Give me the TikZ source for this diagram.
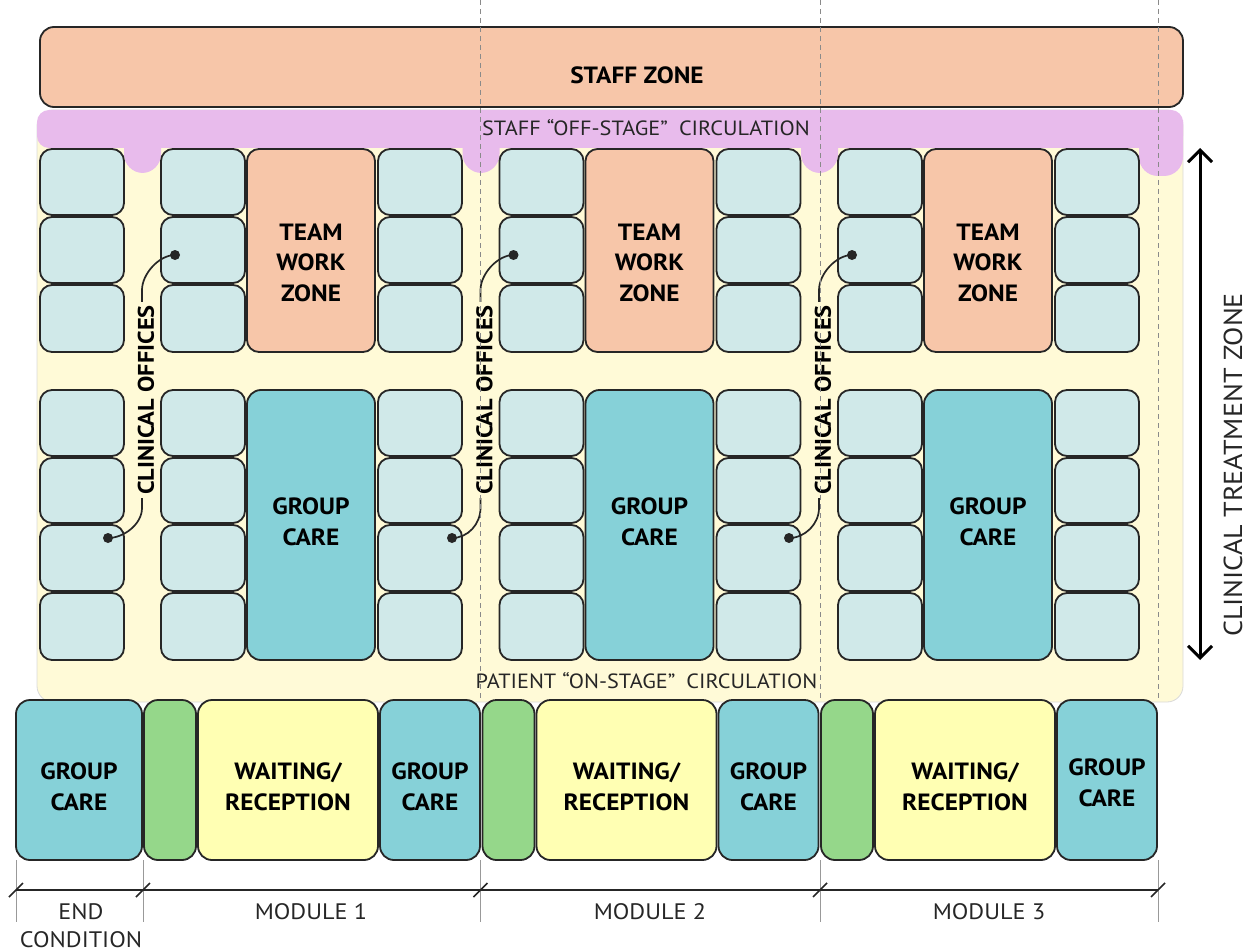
\documentclass[tikz,border=0pt]{standalone}
\usepackage{fontspec}
\setmainfont{PT Sans}[FakeStretch=1.08]
\usetikzlibrary{arrows.meta}
\definecolor{peach}{HTML}{F7C6A9}
\definecolor{lilac}{HTML}{E8BBEC}
\definecolor{cream}{HTML}{FFFAD7}
\definecolor{officefill}{HTML}{D0E9E9}
\definecolor{tealfill}{HTML}{86D1D8}
\definecolor{greenfill}{HTML}{95D78A}
\definecolor{yellowfill}{HTML}{FFFFB3}
\definecolor{ink}{HTML}{262626}
\definecolor{guide}{HTML}{8A8A8A}
\newcommand\rbox[6]{%
  \node[#2, minimum width={((#5)-(#3))*1pt}, minimum height={((#6)-(#4))*1pt}]
    (#1) at ({((#3)+(#5))/2},{((#4)+(#6))/2}) {};}
\tikzset{
  room/.style={draw=ink, line width=1.8pt, rounded corners=12pt, inner sep=0pt, outer sep=0pt},
  officebox/.style={room, fill=officefill},
  teambox/.style={room, fill=peach},
  groupbox/.style={room, fill=tealfill, rounded corners=14pt},
  entrybox/.style={room, fill=greenfill, rounded corners=14pt},
  waitbox/.style={room, fill=yellowfill, rounded corners=14pt},
  boldtxt/.style={align=center, inner sep=0pt, font=\bfseries\fontsize{23.5}{30.5}\selectfont, text=black},
  plaintxt/.style={align=center, inner sep=0pt, font=\fontsize{22.4}{28}\selectfont, text=black!85},
  circtxt/.style={inner sep=0pt, font=\fontsize{20.6}{24}\selectfont, text=black!85},
  sidetxt/.style={rotate=90, inner sep=0pt, font=\fontsize{26}{30}\selectfont, text=black!85},
  vlabel/.style={rotate=90, inner sep=3pt, font=\bfseries\fontsize{22.6}{26}\selectfont},
  leader/.style={draw=ink, line width=1.7pt},
  pin/.style={circle, fill=ink, inner sep=0pt, minimum size=10pt},
  modline/.style={draw=guide, line width=0.8pt, dash pattern=on 5pt off 4pt},
  extline/.style={draw=black!40, line width=0.9pt},
  dimline/.style={draw=ink, line width=1.3pt},
  tickmark/.style={draw=ink, line width=1.5pt},
  bigarrow/.style={draw=black, line width=3pt, {Straight Barb[length=12pt,width=24pt]}-{Straight Barb[length=12pt,width=24pt]}}
}
\begin{document}
\begin{tikzpicture}[x=1pt,y=-1pt]
\useasboundingbox (0,0) rectangle (1247,952);
% staff zone
\rbox{staff}{room, fill=peach, rounded corners=14pt}{40}{27}{1183}{107}
\node[boldtxt] (stafftxt) at (637,75) {STAFF ZONE};
% clinical treatment background
\filldraw[fill=cream, draw=black!15, line width=0.8pt, rounded corners=16pt] (37,110) rectangle (1183,702);
% staff circulation
\fill[lilac, rounded corners=12pt] (37,110) rectangle (1183,148);
\foreach \xa/\xb/\yb in {124/161/173, 462.5/499.5/173, 801/838/173, 1139/1183/176}{
  \fill[lilac] (\xa,120) [rounded corners=19pt] -- (\xa,\yb) -- (\xb,\yb) [sharp corners] -- (\xb,120) -- cycle;
}
\node[circtxt] (offstage) at (646,128) {STAFF ``OFF-STAGE''\hspace{0.25em} CIRCULATION};
\node[circtxt] (onstage) at (646.5,681) {PATIENT ``ON-STAGE''\hspace{0.25em} CIRCULATION};
% end column offices
\foreach \r/\ya/\yb in {1/149/215,2/217/283,3/285/352,4/390/456,5/458/523,6/525/591,7/593/660}{
  \rbox{oe\r}{officebox}{40}{\ya}{124}{\yb}
}
% modules
\foreach \m/\bx in {0/108,1/452,2/789}{
  \pgfmathsetmacro\s{338.5*\m}
  \foreach \r/\ya/\yb in {1/149/215,2/217/283,3/285/352,4/390/456,5/458/523,6/525/591,7/593/660}{
    \rbox{oa\m\r}{officebox}{161+\s}{\ya}{245+\s}{\yb}
    \rbox{ob\m\r}{officebox}{378+\s}{\ya}{462+\s}{\yb}
  }
  \rbox{team\m}{teambox}{247+\s}{149}{375+\s}{352}
  \node[boldtxt] (teamtxt\m) at (311+\s,262.5) {TEAM\\WORK\\ZONE};
  \rbox{grp\m}{groupbox}{247+\s}{390}{375+\s}{660}
  \node[boldtxt] (grptxt\m) at (311+\s,522) {GROUP\\CARE};
  % bottom row
  \rbox{entry\m}{entrybox}{144+\s}{700}{196+\s}{860}
  \rbox{wait\m}{waitbox}{198+\s}{700}{378+\s}{860}
  \node[boldtxt] (waittxt\m) at (288+\s,787) {WAITING/\\RECEPTION};
  \rbox{bgrp\m}{groupbox}{380+\s}{700}{480+\s}{860}
  % clinical offices label and leaders
  \node[vlabel] (co\m) at (146+\s,400) {CLINICAL OFFICES};
  \node[pin] (pt\m) at (175+\s,255) {};
  \node[pin] (pb\m) at (\bx,538) {};
  \draw[leader] ([xshift=-4pt]co\m.east) -- ++(0,-12) .. controls +(0,-16) and +(-16,0) .. (pt\m.center);
  \draw[leader] ([xshift=-4pt]co\m.west) -- ++(0,10) .. controls +(0,16) and +(16,0) .. (pb\m.center);
}
\foreach \m in {0,1}{
  \pgfmathsetmacro\s{338.5*\m}
  \node[boldtxt] (bgrptxt\m) at (430+\s,787) {GROUP\\CARE};
}
\node[boldtxt] (bgrptxt2) at (1107,783) {GROUP\\CARE};
\rbox{grpend}{groupbox}{16}{700}{142}{860}
\node[boldtxt] (grpendtxt) at (79,787) {GROUP\\CARE};
% module dashed lines
\foreach \i/\x in {1/480.5,2/820,3/1158}{
  \coordinate (mt\i) at (\x,0);
  \coordinate (mb\i) at (\x,700);
  \draw[modline] (mt\i) -- (mb\i);
}
% dimension line
\foreach \i/\x in {0/16,1/143,2/480.5,3/820,4/1158}{
  \coordinate (et\i) at (\x,860);
  \coordinate (eb\i) at (\x,922);
  \coordinate (d\i) at (\x,890);
  \draw[extline] (et\i) -- (eb\i);
}
\draw[dimline] (d0) -- (d4);
\foreach \i in {0,...,4}{
  \draw[tickmark] ([shift={(-7,7)}]d\i) -- ([shift={(7,-7)}]d\i);
}
\node[plaintxt] (endlbl) at (81,926) {END\\CONDITION};
\node[plaintxt] (mod1) at (311,912) {MODULE 1};
\node[plaintxt] (mod2) at (650,912) {MODULE 2};
\node[plaintxt] (mod3) at (989,912) {MODULE 3};
% treatment zone arrow
\coordinate (ztop) at (1200,148);
\coordinate (zbot) at (1200,660);
\draw[bigarrow] (ztop) -- (zbot);
\node[sidetxt] (ctz) at (1233,465) {CLINICAL TREATMENT ZONE};
\end{tikzpicture}
\end{document}
